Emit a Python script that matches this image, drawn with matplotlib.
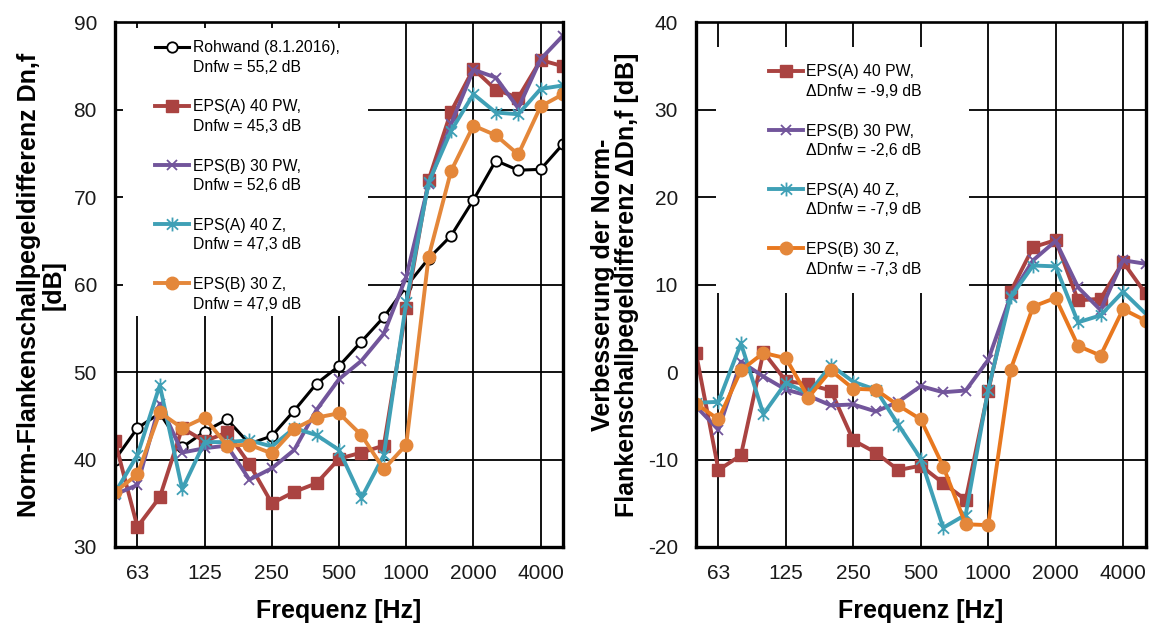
"""
Norm-Flankenschallpegeldifferenz Dn,f and its improvement by EPS linings.
Two panels over third-octave bands 50 Hz - 5 kHz.
"""

import matplotlib
matplotlib.use("Agg")
import matplotlib.pyplot as plt
from matplotlib.lines import Line2D
from matplotlib.patches import Rectangle
from matplotlib.path import Path

plt.rcParams["font.family"] = ["Liberation Sans", "DejaVu Sans"]
plt.rcParams["axes.unicode_minus"] = False

# ---------------------------------------------------------------------------
# Data (third-octave bands)
# ---------------------------------------------------------------------------
FREQS = [50, 63, 80, 100, 125, 160, 200, 250, 315, 400, 500,
         630, 800, 1000, 1250, 1600, 2000, 2500, 3150, 4000, 5000]
TICK_FREQS = [63, 125, 250, 500, 1000, 2000, 4000]

# left panel: Dn,f [dB]
rohwand  = [40.0, 43.6, 45.3, 41.4, 43.2, 44.6, 41.8, 42.7, 45.6, 48.7, 50.7,
            53.5, 56.3, 59.8, 63.0, 65.6, 69.7, 74.2, 73.1, 73.2, 76.1]
eps_a_pw = [42.1, 32.3, 35.7, 43.6, 42.1, 43.1, 39.5, 35.0, 36.3, 37.3, 40.1,
            40.8, 41.6, 57.3, 72.0, 79.8, 84.7, 82.3, 81.4, 85.7, 85.0]
eps_b_pw = [36.0, 37.1, 46.4, 40.8, 41.3, 41.6, 37.7, 39.0, 41.1, 45.7, 49.2,
            51.3, 54.4, 60.9, 71.5, 78.4, 84.6, 83.7, 80.2, 85.8, 88.5]
eps_a_z  = [36.2, 40.5, 48.5, 36.6, 42.0, 42.0, 42.2, 41.5, 43.6, 42.8, 41.1,
            35.6, 40.5, 58.0, 71.7, 77.6, 81.8, 79.7, 79.5, 82.4, 82.8]
eps_b_z  = [36.3, 38.3, 45.4, 43.6, 44.8, 41.6, 41.7, 40.7, 43.5, 44.8, 45.3,
            42.8, 38.9, 41.7, 63.2, 73.0, 78.2, 77.1, 74.9, 80.4, 81.8]

# right panel: improvement delta Dn,f [dB]
d_a_pw = [2.2, -11.2, -9.5, 2.3, -1.0, -1.4, -2.1, -7.8, -9.2, -11.2, -10.7,
          -12.7, -14.6, -2.2, 9.2, 14.3, 15.1, 8.2, 8.4, 12.6, 9.0]
d_b_pw = [-3.9, -6.6, 1.2, -0.5, -2.0, -2.7, -3.8, -3.7, -4.5, -3.4, -1.6,
          -2.3, -2.1, 1.4, 8.7, 12.8, 15.0, 9.7, 7.1, 12.8, 12.4]
d_a_z  = [-3.5, -3.4, 3.3, -4.8, -1.2, -2.5, 0.8, -1.1, -2.0, -6.0, -9.9,
          -17.8, -16.3, -2.0, 8.6, 12.2, 12.1, 5.7, 6.5, 9.2, 6.7]
d_b_z  = [-3.6, -5.4, 0.2, 2.2, 1.6, -2.9, 0.2, -1.9, -2.0, -3.8, -5.4,
          -10.8, -17.4, -17.5, 0.3, 7.5, 8.5, 3.0, 1.9, 7.2, 5.9]

LEFT_NAMES  = ["Rohwand (8.1.2016),", "EPS(A) 40 PW,", "EPS(B) 30 PW,",
               "EPS(A) 40 Z,", "EPS(B) 30 Z,"]
LEFT_NOTES  = ["Dnfw = 55,2 dB", "Dnfw = 45,3 dB", "Dnfw = 52,6 dB",
               "Dnfw = 47,3 dB", "Dnfw = 47,9 dB"]
RIGHT_NAMES = ["EPS(A) 40 PW,", "EPS(B) 30 PW,", "EPS(A) 40 Z,", "EPS(B) 30 Z,"]
RIGHT_NOTES = ["\u0394Dnfw = -9,9 dB", "\u0394Dnfw = -2,6 dB",
               "\u0394Dnfw = -7,9 dB", "\u0394Dnfw = -7,3 dB"]

# ---------------------------------------------------------------------------
# Styles
# ---------------------------------------------------------------------------
RED, PURPLE, TEAL, ORANGE = "#AA4341", "#72559B", "#3FA0B6", "#E4873A"

star = Path([(0, -1), (0, 1), (-0.8, -0.75), (0.8, 0.75), (-0.8, 0.75), (0.8, -0.75)],
            [Path.MOVETO, Path.LINETO] * 3)

STY_ROH = dict(color="black", lw=2.2, marker="o", ms=7.5, mfc="white", mec="black", mew=1.3)
STY_APW = dict(color=RED, lw=2.8, marker="s", ms=9)
STY_BPW = dict(color=PURPLE, lw=2.8, marker="x", ms=7.5, mew=1.3)
STY_AZ  = dict(color=TEAL, lw=2.8, marker=star, ms=10, mew=1.3)
STY_BZ  = dict(color=ORANGE, lw=2.8, marker="o", ms=9)
# right panel: the orange line is a little more saturated than its markers
STY_BZ_R = dict(STY_BZ, color="#E8781F", mfc=ORANGE, mec=ORANGE)

LEG_FS = 11.3


def legend_rows(handles, names, notes):
    # Excel-style legend: handle next to the first line, note on a second row
    blank = Line2D([], [], linestyle="none")
    h, l = [], []
    for i, (hd, n, t) in enumerate(zip(handles, names, notes)):
        h += [hd, blank]
        l += [n, t]
        if i < len(names) - 1:
            h.append(blank)
            l.append(" ")
    return h, l


def style_axes(ax, ylim, yticks):
    xs = range(len(FREQS))
    ax.set_xlim(0, len(FREQS) - 1)
    ax.set_ylim(*ylim)
    ax.set_xticks([FREQS.index(f) for f in TICK_FREQS])
    ax.set_xticklabels([str(f) for f in TICK_FREQS])
    ax.set_yticks(yticks)
    ax.tick_params(length=0, labelsize=15, labelcolor="#1a1a1a")
    ax.tick_params(axis="y", pad=13)
    ax.tick_params(axis="x", pad=12)
    ax.grid(True, color="black", lw=1.3)
    for side in ["left", "bottom", "right"]:
        ax.spines[side].set_linewidth(2.4)
    ax.spines["top"].set_linewidth(1.9)
    ax.set_xlabel("Frequenz [Hz]", fontsize=18, fontweight="bold", labelpad=12)
    return xs


fig = plt.figure(figsize=(11.5, 6.35), dpi=100)
ax1 = fig.add_axes([0.100, 0.1386, 0.3896, 0.826])
ax2 = fig.add_axes([0.6052, 0.1386, 0.3909, 0.826])

# ---------------------------------------------------------------------------
# Left: Dn,f
# ---------------------------------------------------------------------------
xs = style_axes(ax1, (30, 90), range(30, 91, 10))
hs = []
for vals, sty in [(rohwand, STY_ROH), (eps_a_pw, STY_APW), (eps_b_pw, STY_BPW),
                  (eps_a_z, STY_AZ), (eps_b_z, STY_BZ)]:
    hs.append(ax1.plot(xs, vals, zorder=2, **sty)[0])
ax1.add_patch(Rectangle((0.018, 0.440), 0.547, 0.550, transform=ax1.transAxes,
                        facecolor="white", edgecolor="none", zorder=1.7))
h, l = legend_rows(hs, LEFT_NAMES, LEFT_NOTES)
ax1.legend(h, l, loc="upper left", bbox_to_anchor=(0.089, 0.966), frameon=False,
           fontsize=LEG_FS, borderaxespad=0, borderpad=0, labelspacing=0.3,
           handlelength=2.2, handletextpad=0.2)
ax1.set_ylabel("Norm-Flankenschallpegeldifferenz Dn,f\n[dB]", fontsize=18,
               fontweight="bold", labelpad=6, linespacing=1.0)

# ---------------------------------------------------------------------------
# Right: improvement
# ---------------------------------------------------------------------------
xs = style_axes(ax2, (-20, 40), range(-20, 41, 10))
hs = []
for vals, sty in [(d_a_pw, STY_APW), (d_b_pw, STY_BPW), (d_a_z, STY_AZ), (d_b_z, STY_BZ_R)]:
    hs.append(ax2.plot(xs, vals, zorder=2, **sty)[0])
ax2.add_patch(Rectangle((0.044, 0.485), 0.563, 0.469, transform=ax2.transAxes,
                        facecolor="white", edgecolor="none", zorder=1.7))
h, l = legend_rows(hs, RIGHT_NAMES, RIGHT_NOTES)
ax2.legend(h, l, loc="upper left", bbox_to_anchor=(0.162, 0.920), frameon=False,
           fontsize=LEG_FS, borderaxespad=0, borderpad=0, labelspacing=0.3,
           handlelength=2.2, handletextpad=0.2)
ax2.set_ylabel("Verbesserung der Norm-\nFlankenschallpegeldifferenz \u0394Dn,f [dB]",
               fontsize=18, fontweight="bold", labelpad=6, linespacing=1.0)

fig.savefig("out.png", dpi=100)
